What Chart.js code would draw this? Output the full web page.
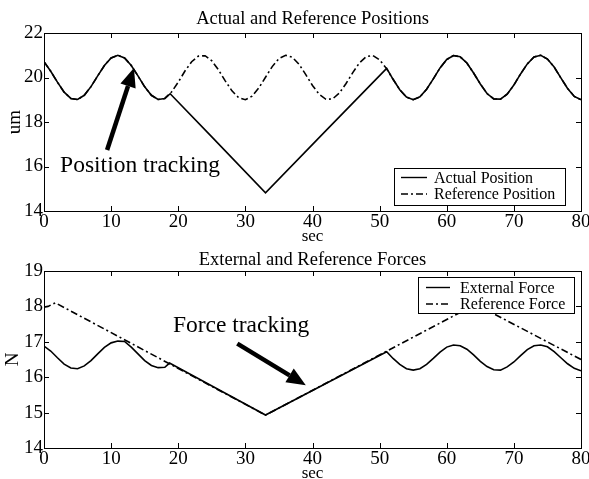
<!DOCTYPE html>
<html><head><meta charset="utf-8">
<script src="https://cdn.jsdelivr.net/npm/chart.js@4/dist/chart.umd.min.js"></script>
<style>
html,body{margin:0;padding:0;background:#fff;width:589px;height:479px;overflow:hidden}
canvas{position:absolute;left:0;top:0}
</style></head><body>
<canvas id="c1" width="589" height="479"></canvas>
<canvas id="c2" width="589" height="479"></canvas>
<script>
// ---------- data ----------
const xTicks = [0, 10, 20, 30, 40, 50, 60, 70, 80];
const positionTicks = [14, 16, 18, 20, 22];
const forceTicks = [14, 15, 16, 17, 18, 19];

const refPosTime = [0,1,2,3,4,5,6,7,8,9,10,11,12,13,14,15,16,17,18,19,20,21,22,23,24,25,26,27,28,29,30,31,32,33,34,35,36,37,38,39,40,41,42,43,44,45,46,47,48,49,50,51,52,53,54,55,56,57,58,59,60,61,62,63,64,65,66,67,68,69,70,71,72,73,74,75,76,77,78,79,80];
const referencePosition = [
 20.71,20.28,19.79,19.34,19.06,19.01,19.20,19.59,20.07,20.54,
 20.88,21.00,20.88,20.54,20.07,19.58,19.20,19.01,19.06,19.35,
 19.79,20.29,20.71,20.96,20.98,20.75,20.34,19.85,19.40,19.09,
 19.00,19.16,19.53,20.01,20.49,20.85,21.00,20.91,20.59,20.13,
 19.64,19.24,19.02,19.04,19.30,19.73,20.22,20.66,20.94,20.99,
 20.79,20.41,19.92,19.45,19.12,19.00,19.13,19.47,19.94,20.43,
 20.81,20.99,20.93,20.65,20.20,19.71,19.28,19.04,19.03,19.25,
 19.66,20.16,20.61,20.92,21.00,20.83,20.47,19.98,19.51,19.15,
 19.00];

const actualPosTime = [0,1,2,3,4,5,6,7,8,9,10,11,12,13,14,15,16,17,18,18.8,25,33,42,51.05,52,53,54,55,56,57,58,59,60,61,62,63,64,65,66,67,68,69,70,71,72,73,74,75,76,77,78,79,80];
const actualPosition = [
 20.71,20.28,19.79,19.34,19.06,19.01,19.20,19.59,20.07,20.54,
 20.88,21.00,20.88,20.54,20.07,19.58,19.20,19.01,19.06,
 19.27,17.33,14.82,17.61,20.41,
 19.92,19.45,19.12,19.00,19.13,19.47,19.94,20.43,20.81,20.99,
 20.93,20.65,20.20,19.71,19.28,19.04,19.03,19.25,19.66,20.16,
 20.61,20.92,21.00,20.83,20.47,19.98,19.51,19.15,19.00];

const refForceTime = [0, 0.6, 1.7, 33, 64.3, 80];
const referenceForce = [17.98, 18.0, 18.1, 14.93, 18.06, 16.5];

const extForceTime = [0,1,2,3,4,5,6,7,8,9,10,11,12,13,14,15,16,17,18,18.7,33,51.05,52,53,54,55,56,57,58,59,60,61,62,63,64,65,66,67,68,69,70,71,72,73,74,75,76,77,78,79,80];
const externalForce = [
 16.88,16.74,16.55,16.37,16.26,16.24,16.32,16.47,16.66,16.84,
 16.97,17.02,17.01,16.85,16.66,16.47,16.33,16.27,16.28,
 16.40,14.93,16.72,
 16.53,16.36,16.24,16.20,16.24,16.36,16.53,16.71,16.85,16.91,
 16.89,16.79,16.63,16.45,16.30,16.21,16.20,16.29,16.43,16.61,
 16.78,16.89,16.91,16.86,16.72,16.55,16.38,16.25,16.18];

// ---------- helpers ----------
const pts = (xs, ys) => xs.map((t, i) => ({x: t, y: ys[i]}));
const SERIF = '"Liberation Serif", "Times New Roman", serif';
const DASH = [7, 3, 2, 3];

function arrow(ctx, x0, y0, x1, y1, head, hw, lw) {
  const a = Math.atan2(y1 - y0, x1 - x0);
  const bx = x1 - head * Math.cos(a), by = y1 - head * Math.sin(a);
  ctx.lineWidth = lw;
  ctx.beginPath(); ctx.moveTo(x0, y0); ctx.lineTo(bx, by); ctx.stroke();
  ctx.beginPath(); ctx.moveTo(x1, y1);
  ctx.lineTo(bx + hw * Math.sin(a), by - hw * Math.cos(a));
  ctx.lineTo(bx - hw * Math.sin(a), by + hw * Math.cos(a));
  ctx.closePath(); ctx.fill();
}

const framePlugin = {
  id: 'frame',
  afterDraw(chart, args, o) {
    const ctx = chart.ctx, a = chart.chartArea, xs = chart.scales.x, ys = chart.scales.y;
    ctx.save();
    ctx.strokeStyle = '#000'; ctx.fillStyle = '#000'; ctx.lineWidth = 1;
    ctx.setLineDash([]);
    // frame
    ctx.strokeRect(Math.round(a.left) + 0.5, Math.round(a.top) + 0.5,
      Math.round(a.right - a.left), Math.round(a.bottom - a.top));
    // ticks
    ctx.beginPath();
    o.xTicks.forEach(v => {
      const px = Math.round(xs.getPixelForValue(v)) + 0.5;
      ctx.moveTo(px, a.bottom); ctx.lineTo(px, a.bottom - 5);
      ctx.moveTo(px, a.top); ctx.lineTo(px, a.top + 5);
    });
    o.yTicks.forEach(v => {
      const py = Math.round(ys.getPixelForValue(v)) + 0.5;
      ctx.moveTo(a.left, py); ctx.lineTo(a.left + 5, py);
      ctx.moveTo(a.right, py); ctx.lineTo(a.right - 5, py);
    });
    ctx.stroke();
    // tick labels
    ctx.font = '19px ' + SERIF;
    ctx.textAlign = 'center'; ctx.textBaseline = 'alphabetic';
    o.xTicks.forEach(v => ctx.fillText(String(v), xs.getPixelForValue(v), a.bottom + 16));
    ctx.textAlign = 'right'; ctx.textBaseline = 'middle';
    o.yTicks.forEach(v => ctx.fillText(String(v), a.left - 1, ys.getPixelForValue(v)));
    // title & axis labels
    const cx = (a.left + a.right) / 2;
    ctx.textAlign = 'center'; ctx.textBaseline = 'alphabetic';
    ctx.font = '18.5px ' + SERIF;
    ctx.fillText(o.title, cx, a.top - o.titleGap);
    ctx.font = '17px ' + SERIF;
    ctx.fillText('sec', cx, a.bottom + 30);
    ctx.save();
    ctx.translate(o.yLabelX, (a.top + a.bottom) / 2);
    ctx.rotate(-Math.PI / 2);
    ctx.font = '19px ' + SERIF;
    ctx.fillText(o.yLabel, 0, 0);
    ctx.restore();
    // annotation
    ctx.font = '23.5px ' + SERIF;
    ctx.textAlign = 'left';
    ctx.fillText(o.note.text, xs.getPixelForValue(o.note.t), ys.getPixelForValue(o.note.v));
    const ar = o.note.arrow;
    arrow(ctx, xs.getPixelForValue(ar[0]), ys.getPixelForValue(ar[1]),
      xs.getPixelForValue(ar[2]), ys.getPixelForValue(ar[3]), 19, 8, 4.5);
    // legend
    const L = o.legend;
    ctx.lineWidth = 1;
    ctx.fillStyle = '#fff';
    ctx.fillRect(L.x, L.y, L.w, L.h);
    ctx.strokeRect(L.x + 0.5, L.y + 0.5, L.w, L.h);
    ctx.fillStyle = '#000';
    ctx.font = '16px ' + SERIF;
    ctx.textBaseline = 'middle';
    chart.data.datasets.forEach((ds, i) => {
      const yy = L.y + L.row0 + i * L.rowH;
      ctx.setLineDash(ds.borderDash || []);
      ctx.lineWidth = 1.4;
      ctx.beginPath(); ctx.moveTo(L.x + L.s0, yy); ctx.lineTo(L.x + L.s1, yy); ctx.stroke();
      ctx.setLineDash([]);
      ctx.fillText(ds.label, L.x + L.tx, yy + 1);
    });
    ctx.restore();
  }
};

function makeChart(id, datasets, yMin, yMax, plotTop, plotBottom, frameOpts) {
  return new Chart(document.getElementById(id), {
    type: 'line',
    data: { datasets },
    options: {
      responsive: false, animation: false, events: [],
      layout: { padding: { left: 0, right: 8, top: plotTop, bottom: 0 } },
      elements: { point: { radius: 0 }, line: { tension: 0, borderWidth: 1.6, borderColor: '#000' } },
      plugins: { legend: { display: false }, tooltip: { enabled: false }, title: { display: false }, frame: frameOpts },
      scales: {
        x: { type: 'linear', min: 0, max: 80, grid: { display: false }, border: { display: false },
             ticks: { display: false }, afterFit: s => { s.height = 479 - plotBottom; } },
        y: { type: 'linear', min: yMin, max: yMax, grid: { display: false }, border: { display: false },
             ticks: { display: false }, afterFit: s => { s.width = 44; } }
      }
    },
    plugins: [framePlugin]
  });
}

makeChart('c1', [
  { label: 'Actual Position', data: pts(actualPosTime, actualPosition), borderColor: '#000', fill: false },
  { label: 'Reference Position', data: pts(refPosTime, referencePosition), borderColor: '#000', borderDash: DASH, fill: false }
], 14, 22, 33, 211, {
  title: 'Actual and Reference Positions', titleGap: 9, yLabel: 'um', yLabelX: 20,
  xTicks, yTicks: positionTicks,
  note: { text: 'Position tracking', t: 2.4, v: 15.77, arrow: [9.4, 16.74, 13.4, 20.43] },
  legend: { x: 394, y: 168, w: 171, h: 37, row0: 9.5, rowH: 16.5, s0: 7, s1: 33, tx: 40 }
});

makeChart('c2', [
  { label: 'External Force', data: pts(extForceTime, externalForce), borderColor: '#000', fill: false },
  { label: 'Reference Force', data: pts(refForceTime, referenceForce), borderColor: '#000', borderDash: DASH, fill: false }
], 14, 19, 271, 448, {
  title: 'External and Reference Forces', titleGap: 6, yLabel: 'N', yLabelX: 18,
  xTicks, yTicks: forceTicks,
  note: { text: 'Force tracking', t: 19.2, v: 17.27, arrow: [28.8, 16.95, 39.0, 15.77] },
  legend: { x: 418, y: 277, w: 156, h: 36, row0: 10.5, rowH: 16.5, s0: 8, s1: 32, tx: 42 }
});
</script>
</body></html>
